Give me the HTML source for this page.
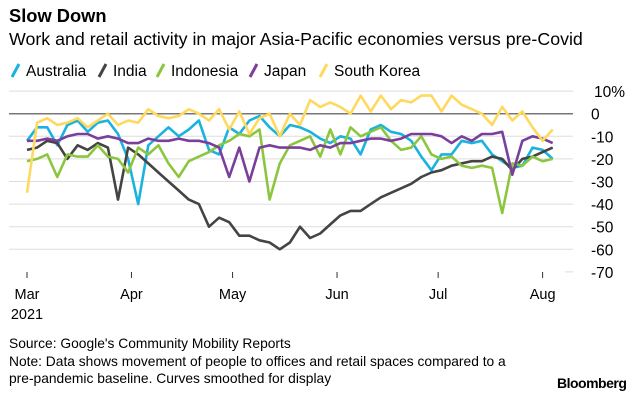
<!DOCTYPE html>
<html><head><meta charset="utf-8">
<style>
body{margin:0;background:#fff;font-family:"Liberation Sans",Arial,sans-serif;}
#wrap{position:relative;width:640px;height:404px;overflow:hidden;}
.t{position:absolute;white-space:nowrap;color:#000;}
</style></head>
<body>
<div id="wrap">
<div class="t" style="left:9px;top:5px;font-size:18.3px;font-weight:bold;">Slow Down</div>
<div class="t" style="left:9px;top:29px;font-size:17.8px;">Work and retail activity in major Asia-Pacific economies versus pre-Covid</div>
<svg id="chart" width="640" height="404" style="position:absolute;left:0;top:0"></svg>
<div class="t" style="left:9px;top:335px;font-size:13.8px;line-height:17.5px;">Source: Google's Community Mobility Reports<br>Note: Data shows movement of people to offices and retail spaces compared to a<br>pre-pandemic baseline. Curves smoothed for display</div>
<div class="t" style="left:557px;top:375px;font-size:14px;font-weight:bold;letter-spacing:-0.5px;">Bloomberg</div>
</div>
<script>
const days=[0,3,6,9,12,15,18,21,24,27,30,33,36,39,42,45,48,51,54,57,60,63,66,69,72,75,78,81,84,87,90,93,96,99,102,105,108,111,114,117,120,123,126,129,132,135,138,141,144,147,150,153,156];
const australia=[-12,-6,-6,-14,-5,-3,-8,-4,-3,-9,-20,-40,-14,-10,-6,-10,-7,-3,-16,-18,-6,-9,-3,-1,-6,-10,-5,-6,-8,-11,-13,-10,-11,-18,-7,-5,-8,-9,-12,-19,-25,-18,-18,-12,-13,-12,-18,-21,-24,-23,-15,-16,-20];
const india=[-16,-15,-12,-13,-20,-14,-16,-13,-15,-38,-15,-18,-22,-26,-30,-34,-38,-40,-50,-46,-48,-54,-54,-56,-57,-60,-57,-50,-55,-53,-49,-45,-43,-43,-40,-37,-35,-33,-31,-28,-26,-25,-23,-22,-21,-21,-19,-20,-25,-20,-19,-17,-15];
const indonesia=[-21,-20,-18,-28,-18,-19,-19,-14,-19,-20,-26,-15,-18,-14,-22,-28,-21,-19,-17,-14,-12,-9,-10,-7,-38,-22,-14,-12,-10,-19,-7,-18,-6,-10,-8,-6,-12,-16,-15,-10,-18,-20,-19,-23,-24,-23,-24,-44,-22,-23,-19,-21,-20];
const japan=[-12,-12,-11,-12,-10,-9,-9,-11,-10,-11,-13,-13,-11,-12,-12,-11,-12,-12,-13,-15,-28,-15,-30,-15,-14,-15,-15,-15,-16,-14,-15,-13,-13,-12,-11,-11,-12,-11,-9,-9,-9,-10,-13,-10,-12,-9,-9,-8,-27,-12,-10,-11,-13];
const southKorea=[-35,-4,-2,-5,-4,-2,-6,-3,0,-5,-3,-4,2,-1,-2,-1,2,0,-3,2,-7,1,-9,-2,0,-10,0,-5,6,3,5,3,0,8,1,8,2,6,5,8,8,1,8,4,2,0,-5,3,-3,1,-6,-12,-7];
const yTicks=[10,0,-10,-20,-30,-40,-50,-60,-70];
const monthLabels=["Mar","Apr","May","Jun","Jul","Aug"];
const monthDays=[0,31,61,92,122,153];
const seriesNames=["Australia","India","Indonesia","Japan","South Korea"];
const seriesColors=["#1ab3e0","#444444","#8cc63f","#7a3f9c","#ffd95e"];
const seriesData=[australia,india,indonesia,japan,southKorea];

const NS="http://www.w3.org/2000/svg";
const svg=document.getElementById('chart');
const x=d=>27+d*3.37;
const y=v=>113.7-v*2.26;
function mk(tag,attrs){const e=document.createElementNS(NS,tag);for(const k in attrs)e.setAttribute(k,attrs[k]);svg.appendChild(e);return e;}

yTicks.forEach(t=>{
  if(t===-70){
    const g=mk('line',{x1:565,x2:573,y1:y(t),y2:y(t),stroke:'#ddd','stroke-width':1});
    
    
  } else {
    const g=mk('line',{x1:9,x2:573,y1:y(t),y2:y(t),stroke:t===0?'#777':'#dedede','stroke-width':t===0?1.5:1});
    
    
  }
  const lb=mk('text',{x:t===10?594:591,y:y(t)+6,'font-size':15.5,'font-family':'Liberation Sans, Arial, sans-serif',fill:'#000'});
  lb.textContent=t===10?'10%':String(t);
  
  
});
monthLabels.forEach((m,i)=>{
  const tk=mk('line',{x1:x(monthDays[i]),x2:x(monthDays[i]),y1:272,y2:278,stroke:'#333','stroke-width':1});
  
  
  const lb=mk('text',{x:x(monthDays[i]),y:299,'font-size':14.5,'text-anchor':'middle','font-family':'Liberation Sans, Arial, sans-serif'});
  lb.textContent=m;
  
  
});
const yr=mk('text',{x:x(0),y:319,'font-size':14.5,'text-anchor':'middle','font-family':'Liberation Sans, Arial, sans-serif'});
yr.textContent='2021';



seriesData.forEach((s,i)=>{
  const pts=s.map((v,j)=>x(days[j]).toFixed(1)+','+y(v).toFixed(1)).join(' ');
  const pl=mk('polyline',{points:pts,fill:'none',stroke:seriesColors[i],'stroke-width':2.6,'stroke-linejoin':'round'});
  
  
});

const legX=[10,97,155,248,318];
seriesNames.forEach((n,i)=>{
  const ic=mk('line',{x1:legX[i]+2,y1:77,x2:legX[i]+9,y2:64,stroke:seriesColors[i],'stroke-width':3});
  
  
  const lt=mk('text',{x:legX[i]+16,y:76,'font-size':15.5,'font-family':'Liberation Sans, Arial, sans-serif'});
  lt.textContent=n;
  
  
});
</script>
</body></html>
